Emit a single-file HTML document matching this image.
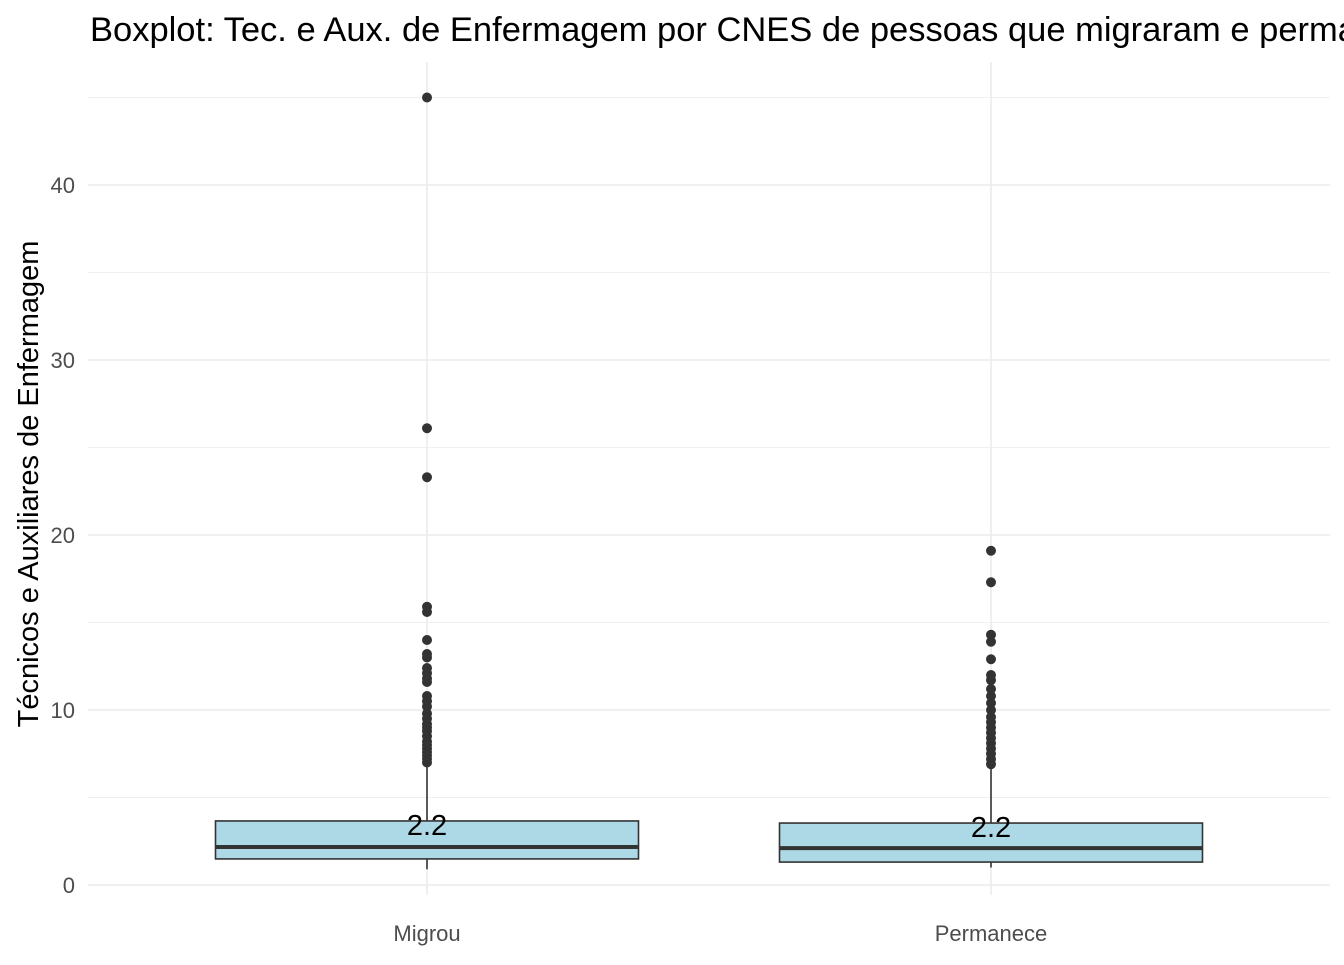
<!DOCTYPE html>
<html><head><meta charset="utf-8"><style>
body{margin:0;background:#fff;overflow:hidden}
svg{font-family:"Liberation Sans",sans-serif}
</style></head><body>
<svg id="chart" width="1344" height="960">
<text x="90" y="41" font-size="34.5" fill="#000">Boxplot: Tec. e Aux. de Enfermagem por CNES de pessoas que migraram e permaneceram</text>
<text transform="translate(38,484) rotate(-90)" text-anchor="middle" font-size="29" fill="#000">Técnicos e Auxiliares de Enfermagem</text>
<g id="grid"></g><g id="marks"></g>
</svg>
<script>
const categories=["Migrou","Permanece"];
const lowerWhisker=[0.9,1.0];
const q1=[1.49,1.31];
const medians=[2.17,2.11];
const q3=[3.66,3.54];
const upperWhisker=[6.9,6.8];
const medianLabels=["2.2","2.2"];
const outliersMigrou=[45,26.1,23.3,15.9,15.6,14.0,13.2,13.0,12.4,12.1,11.8,11.6,10.8,10.5,10.2,9.8,9.5,9.2,9.0,8.8,8.5,8.2,8.0,7.8,7.6,7.4,7.2,7.0];
const outliersPermanece=[19.1,17.3,14.3,13.9,12.9,12.0,11.7,11.2,10.8,10.4,10.0,9.6,9.3,9.0,8.7,8.4,8.1,7.8,7.5,7.2,6.9];
const yTicks=[0,10,20,30,40];
const yMinor=[5,15,25,35,45];
const NS="http://www.w3.org/2000/svg";
const y=v=>885-v*17.5;
const x=i=>427+i*564;
const halfW=211.5;
const grid=document.getElementById('grid'),marks=document.getElementById('marks');
function mk(p,t,a){const e=document.createElementNS(NS,t);for(const k in a)e.setAttribute(k,a[k]);p.appendChild(e);return e;}
yMinor.forEach(v=>{const l=mk(grid,'line',{x1:88,x2:1330,y1:y(v),y2:y(v),stroke:'#ebebeb','stroke-width':0.8});

});
yTicks.forEach(v=>{const l=mk(grid,'line',{x1:88,x2:1330,y1:y(v),y2:y(v),stroke:'#ebebeb','stroke-width':1.6});


const t=mk(grid,'text',{x:75,y:y(v)+8,'text-anchor':'end','font-size':22,fill:'#4d4d4d'});t.textContent=v;

});
categories.forEach((c,i)=>{const l=mk(grid,'line',{x1:x(i),x2:x(i),y1:62,y2:895,stroke:'#ebebeb','stroke-width':1.6});


const t=mk(grid,'text',{x:x(i),y:941,'text-anchor':'middle','font-size':22,fill:'#4d4d4d'});t.textContent=c;

});
categories.forEach((c,i)=>{
const g=mk(marks,'g',{});


mk(g,'line',{x1:x(i),x2:x(i),y1:y(lowerWhisker[i]),y2:y(q1[i]),stroke:'#333','stroke-width':1.6});
mk(g,'line',{x1:x(i),x2:x(i),y1:y(q3[i]),y2:y(upperWhisker[i]),stroke:'#333','stroke-width':1.6});
mk(g,'rect',{x:x(i)-halfW,y:y(q3[i]),width:2*halfW,height:y(q1[i])-y(q3[i]),fill:'#add8e6',stroke:'#333','stroke-width':1.6});
mk(g,'line',{x1:x(i)-halfW,x2:x(i)+halfW,y1:y(medians[i]),y2:y(medians[i]),stroke:'#333','stroke-width':4});
const outs=i===0?outliersMigrou:outliersPermanece;
outs.forEach(v=>{const p=mk(g,'circle',{cx:x(i),cy:y(v),r:5,fill:'#333'});

});
const t=mk(g,'text',{x:x(i),y:y(q3[i])+14,'text-anchor':'middle','font-size':29,fill:'#000'});t.textContent=medianLabels[i];


});
</script>
</body></html>
